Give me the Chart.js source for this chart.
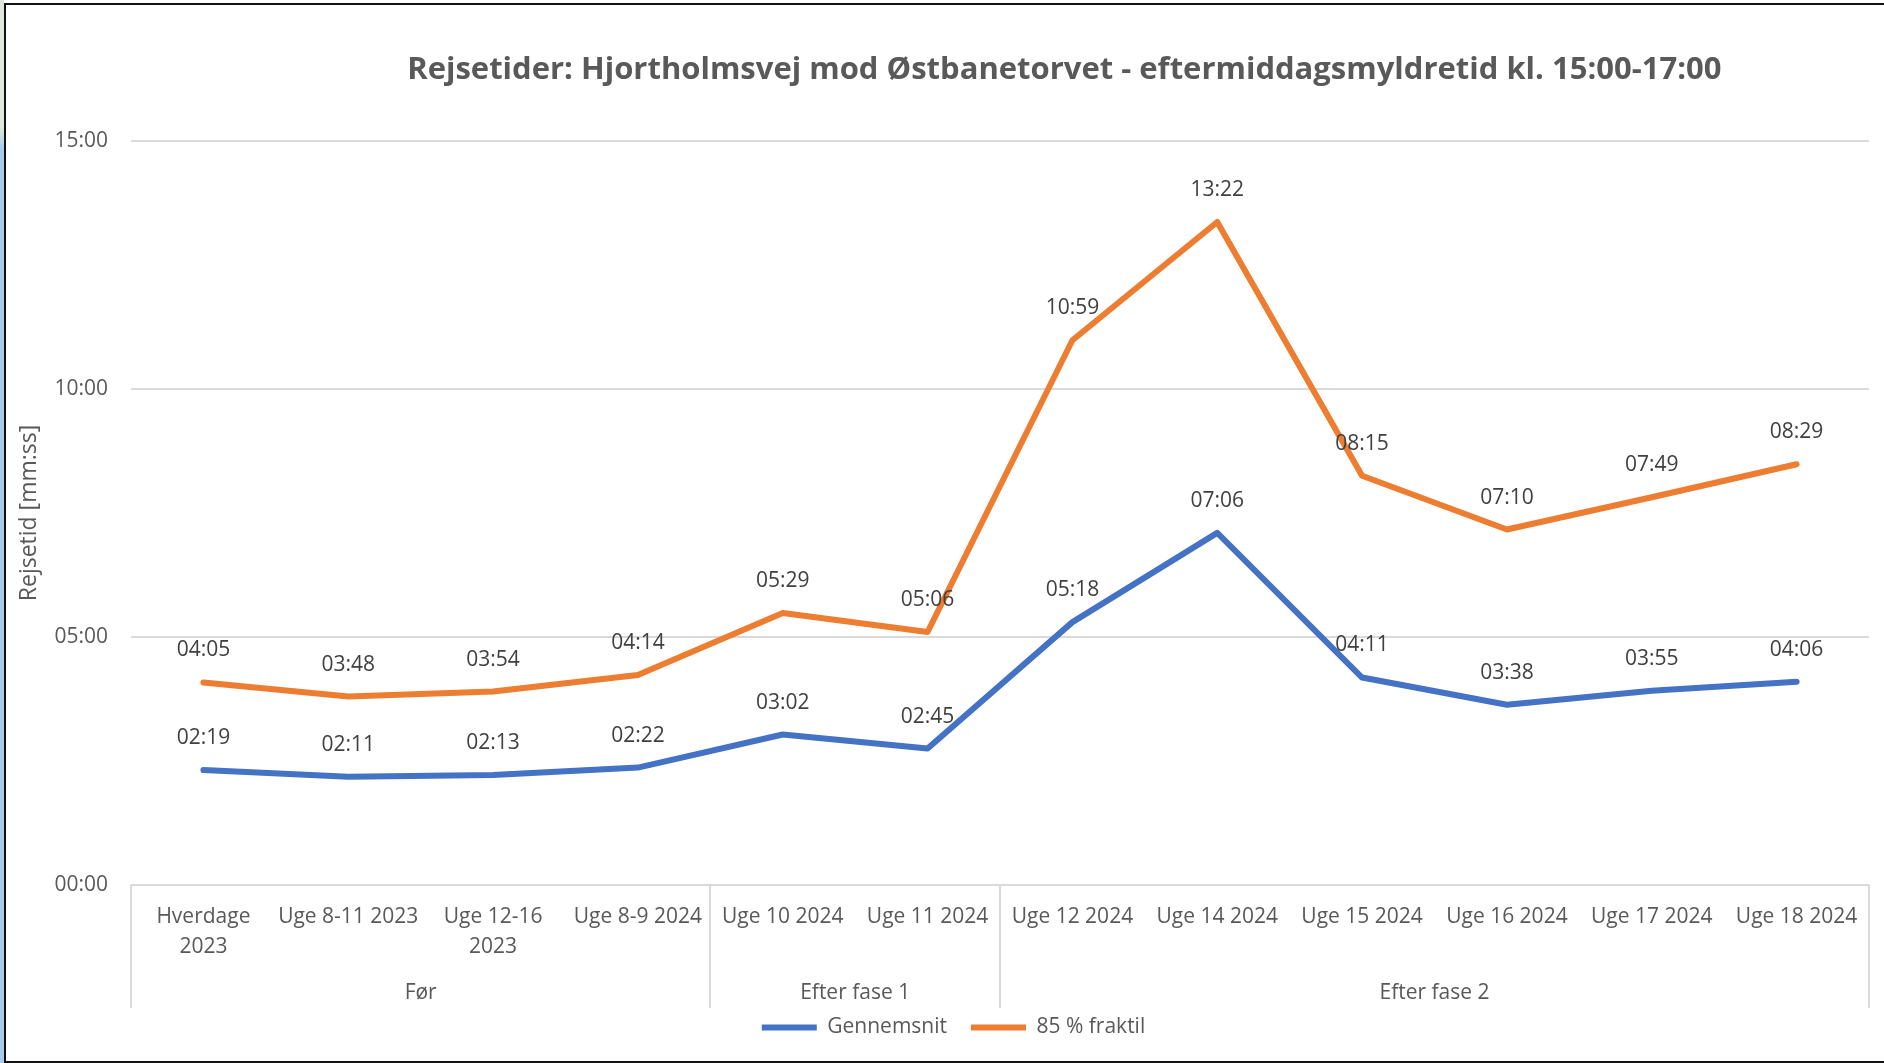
<!DOCTYPE html>
<html lang="da">
<head>
<meta charset="utf-8">
<title>Rejsetider</title>
<script src="https://cdn.jsdelivr.net/npm/chart.js@4.4.1/dist/chart.umd.min.js"></script>
<style>
    html, body { margin: 0; padding: 0; background: #fff; overflow: hidden; }
    #wrap { position: relative; width: 1884px; height: 1063px; }
    #strip { position: absolute; left: 0; top: 0; width: 4px; height: 1063px;
        background: linear-gradient(#dfe7da 0%, #dfe7da 12%, #a9cbe8 14%, #a9cbe8 100%); }
    #frame { position: absolute; left: 4px; top: 3px; width: 1890px; height: 1056px;
        border-top: 2px solid #111; border-left: 2px solid #111; border-bottom: 2px solid #111;
        pointer-events: none; }
    canvas { position: absolute; left: 0; top: 0; }
</style>
</head>
<body>
<div id="wrap">
    <div id="strip"></div>
    <canvas id="travelChart" width="1884" height="1063"></canvas>
    <div id="frame"></div>
</div>
<script>
// Rejsetider i sekunder
const categories = [
    ['Hverdage', '2023'], 'Uge 8-11 2023', ['Uge 12-16', '2023'], 'Uge 8-9 2024',
    'Uge 10 2024', 'Uge 11 2024', 'Uge 12 2024', 'Uge 14 2024',
    'Uge 15 2024', 'Uge 16 2024', 'Uge 17 2024', 'Uge 18 2024'
]
const gennemsnit = [139, 131, 133, 142, 182, 165, 318, 426, 251, 218, 235, 246]
const fraktil85 = [245, 228, 234, 254, 329, 306, 659, 802, 495, 430, 469, 509]
const groupNames = ['Før', 'Efter fase 1', 'Efter fase 2']
const groupSizes = [4, 2, 6]
const yTicks = [0, 300, 600, 900]

const FONT = '"Open Sans", "DejaVu Sans", sans-serif'
const GREY = '#595959'

function mmss(sec) {
    const m = Math.floor(sec / 60)
    const s = Math.round(sec % 60)
    return String(m).padStart(2, '0') + ':' + String(s).padStart(2, '0')
}

// titel over plotområdet
const titlePlugin = {
    id: 'chartTitle',
    afterDraw(chart) {
        const { ctx, chartArea } = chart
        ctx.save()
        ctx.font = 'bold 31px ' + FONT
        ctx.fillStyle = GREY
        ctx.textAlign = 'center'
        ctx.textBaseline = 'middle'
        const x = chartArea.left + (chartArea.right - chartArea.left) * 0.537
        ctx.fillText('Rejsetider: Hjortholmsvej mod Østbanetorvet - eftermiddagsmyldretid kl. 15:00-17:00', x, 70)
        ctx.restore()
    }
}

// værdier over hvert punkt
const valueLabels = {
    id: 'valueLabels',
    afterDatasetsDraw(chart) {
        const { ctx } = chart
        ctx.save()
        ctx.font = '21px ' + FONT
        ctx.fillStyle = '#404040'
        ctx.textAlign = 'center'
        ctx.textBaseline = 'middle'
        chart.data.datasets.forEach((ds, i) => {
            chart.getDatasetMeta(i).data.forEach((pt, j) => {
                ctx.fillText(mmss(ds.data[j]), pt.x, pt.y - 32)
            })
        })
        ctx.restore()
    }
}

// grupper under x-aksen (Før / Efter fase 1 / Efter fase 2)
const groupAxis = {
    id: 'groupAxis',
    afterLayout(chart) {
        // legenden står lidt til højre for midten
        if (chart.legend) {
            chart.legend.left += 14
            chart.legend.right += 14
        }
    },
    afterDraw(chart) {
        const { ctx, chartArea } = chart
        const x = chart.scales.x
        const half = (x.getPixelForValue(1) - x.getPixelForValue(0)) / 2
        const top = chartArea.bottom
        const bottom = top + 123
        ctx.save()
        ctx.strokeStyle = '#d9d9d9'
        ctx.lineWidth = 2
        ctx.font = '21px ' + FONT
        ctx.fillStyle = GREY
        ctx.textAlign = 'center'
        ctx.textBaseline = 'middle'

        let start = 0
        const edges = [x.getPixelForValue(0) - half]
        groupSizes.forEach((n, g) => {
            const end = start + n - 1
            const l = x.getPixelForValue(start) - half
            const r = x.getPixelForValue(end) + half
            edges.push(r)
            ctx.fillText(groupNames[g], (l + r) / 2, top + 108)
            start += n
        })
        edges.forEach((ex) => {
            ctx.beginPath()
            ctx.moveTo(Math.round(ex), top)
            ctx.lineTo(Math.round(ex), bottom)
            ctx.stroke()
        })
        ctx.restore()
    }
}

const el = document.getElementById('travelChart')

new Chart(el, {
    type: 'line',
    data: {
        labels: categories,
        datasets: [
            {
                label: 'Gennemsnit',
                data: gennemsnit,
                borderColor: '#4472C4',
                backgroundColor: '#4472C4',
                borderWidth: 6,
                borderCapStyle: 'round',
                borderJoinStyle: 'round',
                pointRadius: 0,
                tension: 0
            },
            {
                label: '85 % fraktil',
                data: fraktil85,
                borderColor: '#ED7D31',
                backgroundColor: '#ED7D31',
                borderWidth: 6,
                borderCapStyle: 'round',
                borderJoinStyle: 'round',
                pointRadius: 0,
                tension: 0
            }
        ]
    },
    options: {
        responsive: false,
        animation: false,
        layout: {
            padding: { top: 141, left: 10, right: 15, bottom: 15 }
        },
        plugins: {
            title: { display: false },
            tooltip: { enabled: false },
            legend: {
                position: 'bottom',
                labels: {
                    usePointStyle: true,
                    pointStyle: 'line',
                    pointStyleWidth: 55,
                    color: GREY,
                    padding: 24,
                    font: { family: FONT, size: 21 }
                }
            }
        },
        scales: {
            x: {
                offset: true,
                grid: { display: false, drawTicks: false },
                border: { display: false },
                ticks: {
                    color: GREY,
                    maxRotation: 0,
                    autoSkip: false,
                    padding: 17,
                    font: { family: FONT, size: 21, lineHeight: 30 / 21 }
                },
                afterFit(scale) {
                    scale.height = 108
                }
            },
            y: {
                min: 0,
                max: 900,
                afterBuildTicks(scale) {
                    scale.ticks = yTicks.map((v) => ({ value: v }))
                },
                grid: { color: '#d9d9d9', lineWidth: 2, drawTicks: false },
                border: { display: false },
                ticks: {
                    color: GREY,
                    padding: 23,
                    font: { family: FONT, size: 21 },
                    callback: (v) => mmss(v)
                },
                title: {
                    display: true,
                    text: 'Rejsetid [mm:ss]',
                    color: GREY,
                    padding: { top: 6, bottom: 0 },
                    font: { family: FONT, size: 23 }
                },
                afterFit(scale) {
                    scale.width = 121
                }
            }
        }
    },
    plugins: [titlePlugin, valueLabels, groupAxis]
})
</script>
</body>
</html>
